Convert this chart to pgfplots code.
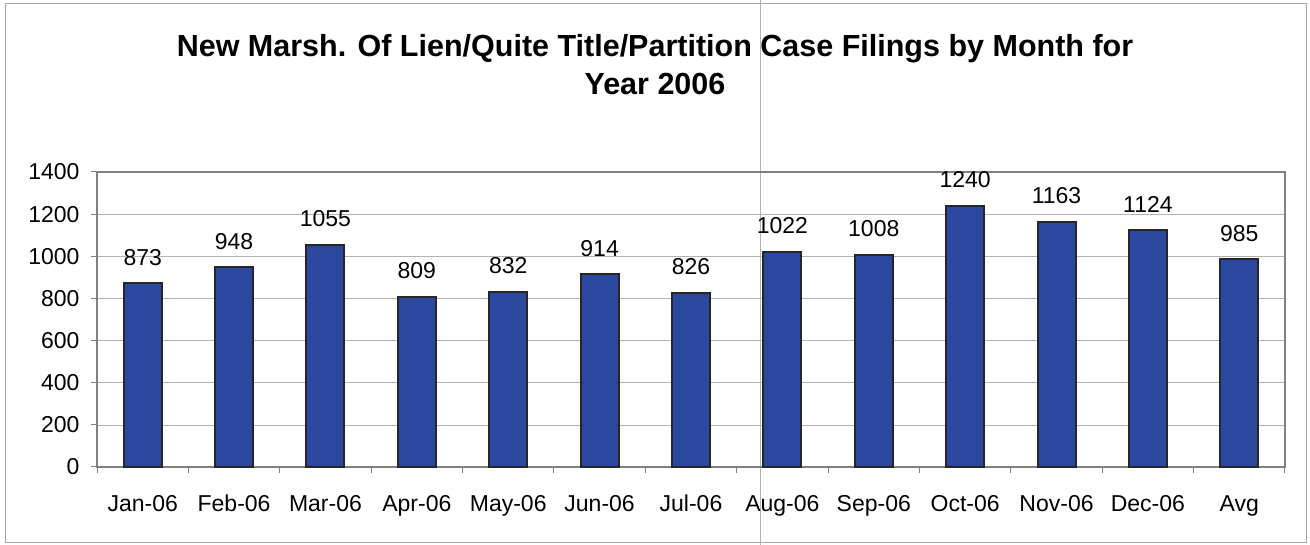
\documentclass[border=0pt]{standalone}
\usepackage{fontspec}
\setmainfont{Liberation Sans}
\usepackage{pgfplots}
\pgfplotsset{compat=1.18}
\definecolor{barblue}{RGB}{44,72,158}
\definecolor{axgray}{RGB}{128,128,128}
\begin{document}
\begin{tikzpicture}[x=1pt,y=1pt]
\useasboundingbox (0,0) rectangle (1310,545);
\draw[gray!70, line width=1pt] (5,2) rectangle (1306,541);
\draw[gray!60, line width=0.6pt] (760,0) -- (760,545);
\node[font=\fontsize{30.5}{34}\selectfont\bfseries, anchor=base, inner sep=0pt] at (655,488) {New Marsh. Of Lien/Quite Title/Partition Case Filings by Month for};
\node[font=\fontsize{30.5}{34}\selectfont\bfseries, anchor=base, inner sep=0pt] at (655,450) {Year 2006};
\begin{axis}[
  at={(97pt,78pt)}, anchor=south west,
  scale only axis, width=1188pt, height=295pt,
  /pgf/number format/assume math mode=true,
  /pgf/number format/1000 sep={},
  ymin=0, ymax=1400, ytick={0,200,...,1400},
  xmin=-0.5, xmax=12.5,
  xtick={-0.5,0.5,...,12.5},
  xticklabels={Jan-06,Feb-06,Mar-06,Apr-06,May-06,Jun-06,Jul-06,Aug-06,Sep-06,Oct-06,Nov-06,Dec-06,Avg},
  x tick label as interval,
  xtick pos=lower, ytick pos=left,
  ybar, bar width=38pt, bar shift=0pt,
  ymajorgrids, grid style={gray!60, line width=0.6pt},
  axis line style={axgray, line width=1.4pt},
  tick align=outside, major tick length=6pt,
  tick style={axgray, line width=1pt},
  ticklabel style={font=\fontsize{23}{26}\selectfont},
  xticklabel style={anchor=base, yshift=-39pt},
  yticklabel style={xshift=-8pt},
  nodes near coords,
  every node near coord/.append style={font=\fontsize{23}{26}\selectfont, anchor=base, yshift=18pt, inner sep=0pt, text=black},
  clip=false,
]
\addplot[fill=barblue, draw=black!85, line width=2pt] coordinates {
(0,873)(1,948)(2,1055)(3,809)(4,832)(5,914)(6,826)(7,1022)(8,1008)(9,1240)(10,1163)(11,1124)(12,985)};
\end{axis}
\end{tikzpicture}
\end{document}
